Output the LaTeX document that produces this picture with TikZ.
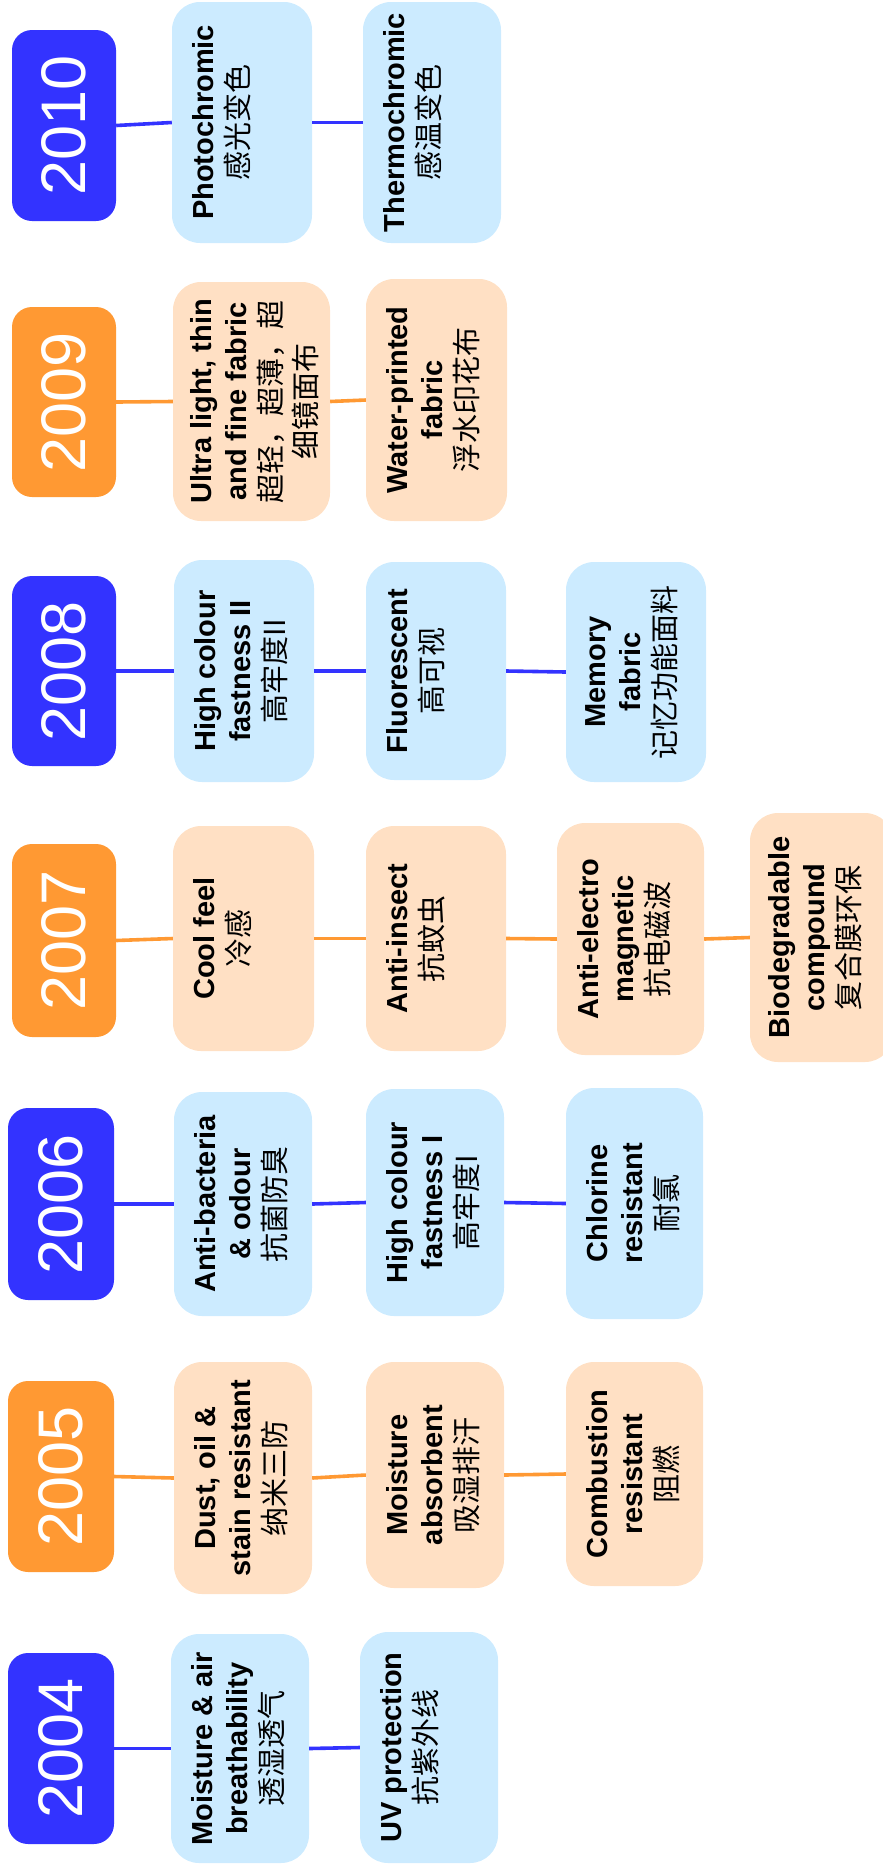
\documentclass[tikz,border=0pt]{standalone}
\usepackage{fontspec}
\setmainfont{Liberation Sans}
\newfontfamily\cjk{Noto Sans CJK SC}
\usetikzlibrary{calc}
\definecolor{yearblue}{HTML}{3333FF}
\definecolor{yearorange}{HTML}{FF9933}
\definecolor{boxblue}{HTML}{CCEBFF}
\definecolor{boxorange}{HTML}{FFE0C4}

\begin{document}
\begin{tikzpicture}[x=1pt,y=1pt]
  \pgfmathsetmacro{\GAP}{20}
\tikzset{
  wh/.style 2 args={minimum width=#1pt, minimum height=#2pt},
  ybox/.style={rectangle, rounded corners=20pt, inner sep=0},
  yblue/.style={ybox, fill=yearblue},
  yorange/.style={ybox, fill=yearorange},
  fbox/.style={rectangle, rounded corners=28pt, inner sep=0},
  fblue/.style={fbox, fill=boxblue},
  forange/.style={fbox, fill=boxorange},
  ytext/.style={rotate=90, inner sep=0, text=white, font=\fontsize{63}{70}\selectfont},
  ftext/.style={rotate=90, anchor=north, inner sep=0, align=center,
    font=\fontsize{29}{35}\selectfont},
  bline/.style={draw=yearblue, line width=3.6pt},
  oline/.style={draw=yearorange, line width=3.6pt},
}
  \useasboundingbox (0,0) rectangle (883,-1872);
  \clip (0,0) rectangle (883,-1872);

  % 2010
  \node[yblue, wh={104}{191}] (y10) at (64,-125.5) {};
  \node[ytext] (ty10) at (y10) {2010};
  \node[fblue, wh={140}{241}] (p10a) at (242,-122.5) {};
  \node[ftext] (t10a) at ($(p10a.west)+(\GAP,0)$) {\textbf{Photochromic}\\{\cjk 感光变色}};
  \node[fblue, wh={138}{241}] (p10b) at (432,-122.5) {};
  \node[ftext] (t10b) at ($(p10b.west)+(\GAP,0)$) {\textbf{Thermochromic}\\{\cjk 感温变色}};
  \draw[bline] (y10.east) -- (p10a.west);
  \draw[bline] (p10a.east) -- (p10b.west);

  % 2009
  \node[yorange, wh={104}{190}] (y09) at (64,-402) {};
  \node[ytext] (ty09) at (y09) {2009};
  \node[forange, wh={157}{239}] (p09a) at (251.5,-401.5) {};
  \node[ftext] (t09a) at ($(p09a.west)+(17,0)$) {\textbf{Ultra light, thin}\\\textbf{and fine fabric}\\{\cjk 超轻，超薄，超}\\{\cjk 细镜面布}};
  \node[forange, wh={141}{242}] (p09b) at (436.5,-400) {};
  \node[ftext] (t09b) at ($(p09b.west)+(\GAP,0)$) {\textbf{Water-printed}\\\textbf{fabric}\\{\cjk 浮水印花布}};
  \draw[oline] (y09.east) -- (p09a.west);
  \draw[oline] (p09a.east) -- (p09b.west);

  % 2008
  \node[yblue, wh={104}{190}] (y08) at (64,-671) {};
  \node[ytext] (ty08) at (y08) {2008};
  \node[fblue, wh={140}{222}] (p08a) at (244,-671) {};
  \node[ftext] (t08a) at ($(p08a.west)+(\GAP,0)$) {\textbf{High colour}\\\textbf{fastness II}\\{\cjk 高牢度II}};
  \node[fblue, wh={140}{218}] (p08b) at (436,-671) {};
  \node[ftext] (t08b) at ($(p08b.west)+(\GAP,0)$) {\textbf{Fluorescent}\\{\cjk 高可视}};
  \node[fblue, wh={140}{220}] (p08c) at (636,-672) {};
  \node[ftext] (t08c) at ($(p08c.west)+(\GAP,0)$) {\textbf{Memory}\\\textbf{fabric}\\{\cjk 记忆功能面料}};
  \draw[bline] (y08.east) -- (p08a.west);
  \draw[bline] (p08a.east) -- (p08b.west);
  \draw[bline] (p08b.east) -- (p08c.west);

  % 2007
  \node[yorange, wh={104}{193}] (y07) at (64,-940.5) {};
  \node[ytext] (ty07) at (y07) {2007};
  \node[forange, wh={141}{225}] (p07a) at (243.5,-938.5) {};
  \node[ftext] (t07a) at ($(p07a.west)+(\GAP,0)$) {\textbf{Cool feel}\\{\cjk 冷感}};
  \node[forange, wh={140}{225}] (p07b) at (436,-938.5) {};
  \node[ftext] (t07b) at ($(p07b.west)+(\GAP,0)$) {\textbf{Anti-insect}\\{\cjk 抗蚊虫}};
  \node[forange, wh={147}{232}] (p07c) at (630.5,-939) {};
  \node[ftext] (t07c) at ($(p07c.west)+(\GAP,0)$) {\textbf{Anti-electro}\\\textbf{magnetic}\\{\cjk 抗电磁波}};
  \node[forange, wh={143}{249}] (p07d) at (821.5,-937.5) {};
  \node[ftext] (t07d) at ($(p07d.west)+(18,0)$) {\textbf{Biodegradable}\\\textbf{compound}\\{\cjk 复合膜环保}};
  \draw[oline] (y07.east) -- (p07a.west);
  \draw[oline] (p07a.east) -- (p07b.west);
  \draw[oline] (p07b.east) -- (p07c.west);
  \draw[oline] (p07c.east) -- (p07d.west);

  % 2006
  \node[yblue, wh={106}{192}] (y06) at (61,-1204) {};
  \node[ytext] (ty06) at (y06) {2006};
  \node[fblue, wh={138}{224}] (p06a) at (243,-1204) {};
  \node[ftext] (t06a) at ($(p06a.west)+(\GAP,0)$) {\textbf{Anti-bacteria}\\\textbf{\& odour}\\{\cjk 抗菌防臭}};
  \node[fblue, wh={138}{227}] (p06b) at (435,-1202.5) {};
  \node[ftext] (t06b) at ($(p06b.west)+(\GAP,0)$) {\textbf{High colour}\\\textbf{fastness I}\\{\cjk 高牢度I}};
  \node[fblue, wh={137}{231}] (p06c) at (634.5,-1203.5) {};
  \node[ftext] (t06c) at ($(p06c.west)+(\GAP,0)$) {\textbf{Chlorine}\\\textbf{resistant}\\{\cjk 耐氯}};
  \draw[bline] (y06.east) -- (p06a.west);
  \draw[bline] (p06a.east) -- (p06b.west);
  \draw[bline] (p06b.east) -- (p06c.west);

  % 2005
  \node[yorange, wh={106}{191}] (y05) at (61,-1476.5) {};
  \node[ytext] (ty05) at (y05) {2005};
  \node[forange, wh={138}{232}] (p05a) at (243,-1478) {};
  \node[ftext] (t05a) at ($(p05a.west)+(\GAP,0)$) {\textbf{Dust, oil \&}\\\textbf{stain resistant}\\{\cjk 纳米三防}};
  \node[forange, wh={138}{226}] (p05b) at (435,-1475) {};
  \node[ftext] (t05b) at ($(p05b.west)+(\GAP,0)$) {\textbf{Moisture}\\\textbf{absorbent}\\{\cjk 吸湿排汗}};
  \node[forange, wh={137}{224}] (p05c) at (634.5,-1474) {};
  \node[ftext] (t05c) at ($(p05c.west)+(\GAP,0)$) {\textbf{Combustion}\\\textbf{resistant}\\{\cjk 阻燃}};
  \draw[oline] (y05.east) -- (p05a.west);
  \draw[oline] (p05a.east) -- (p05b.west);
  \draw[oline] (p05b.east) -- (p05c.west);

  % 2004
  \node[yblue, wh={106}{191}] (y04) at (61,-1748.5) {};
  \node[ytext] (ty04) at (y04) {2004};
  \node[fblue, wh={138}{229}] (p04a) at (240,-1748.5) {};
  \node[ftext] (t04a) at ($(p04a.west)+(\GAP,0)$) {\textbf{Moisture \& air}\\\textbf{breathability}\\{\cjk 透湿透气}};
  \node[fblue, wh={138}{231}] (p04b) at (429,-1747.5) {};
  \node[ftext] (t04b) at ($(p04b.west)+(\GAP,0)$) {\textbf{UV protection}\\{\cjk 抗紫外线}};
  \draw[bline] (y04.east) -- (p04a.west);
  \draw[bline] (p04a.east) -- (p04b.west);

\end{tikzpicture}
\end{document}
